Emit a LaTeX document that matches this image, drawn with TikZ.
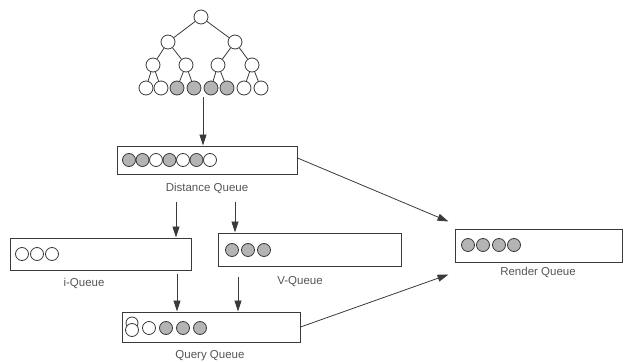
\documentclass[tikz,border=0pt]{standalone}
\usepackage{fontspec}
\setmainfont{Liberation Sans}
\usetikzlibrary{arrows.meta}
\definecolor{ink}{HTML}{3A3A3A}
\definecolor{txt}{HTML}{555555}
\definecolor{shade}{HTML}{B4B4B4}
\tikzset{
  wc/.style={circle,draw=ink,line width=0.8pt,fill=white,minimum size=13pt,inner sep=0pt},
  gc/.style={wc,fill=shade},
  tn/.style={circle,draw=ink,line width=0.8pt,fill=white,minimum size=14pt,inner sep=0pt},
  tg/.style={tn,fill=shade},
  qbox/.style={rectangle,draw=ink,line width=1pt,inner sep=0pt},
  lab/.style={text=txt,font=\fontsize{11.5}{13}\selectfont,inner sep=0pt},
  edge/.style={draw=ink,line width=0.8pt},
  arr/.style={draw=ink,line width=0.8pt,-{Triangle[length=11pt,width=7pt]}},
}
\begin{document}
\begin{tikzpicture}[x=1pt,y=-1pt]
\useasboundingbox (0,0) rectangle (625,362);
% tree
\node[tn] (r) at (201,17) {};
\node[tn] (a) at (168,42) {};
\node[tn] (b) at (235,42) {};
\node[tn] (a1) at (153,65) {};
\node[tn] (a2) at (186,65) {};
\node[tn] (b1) at (218,65) {};
\node[tn] (b2) at (252,65) {};
\node[tn] (l1) at (146,88) {};
\node[tn] (l2) at (161,88) {};
\node[tg] (l3) at (177,88) {};
\node[tg] (l4) at (194,88) {};
\node[tg] (l5) at (211,88) {};
\node[tg] (l6) at (227,88) {};
\node[tn] (l7) at (244,88) {};
\node[tn] (l8) at (261,88) {};
\draw[edge] (r)--(a) (r)--(b) (a)--(a1) (a)--(a2) (b)--(b1) (b)--(b2)
  (a1)--(l1) (a1)--(l2) (a2)--(l3) (a2)--(l4) (b1)--(l5) (b1)--(l6) (b2)--(l7) (b2)--(l8);
% boxes
\node[qbox,minimum width=180pt,minimum height=28pt] (dq) at (207,160) {};
\node[qbox,minimum width=181pt,minimum height=32pt] (iq) at (100.5,254) {};
\node[qbox,minimum width=183pt,minimum height=33pt] (vq) at (309.5,249.5) {};
\node[qbox,minimum width=178pt,minimum height=30pt] (qq) at (211,327) {};
\node[qbox,minimum width=167pt,minimum height=33pt] (rq) at (538.5,245.5) {};
% labels
\node[lab] (dql) at (207,188) {Distance Queue};
\node[lab] (iql) at (84,283) {i-Queue};
\node[lab] (vql) at (300,282) {V-Queue};
\node[lab] (qql) at (210,356) {Query Queue};
\node[lab] (rql) at (538,272) {Render Queue};
% distance queue circles
\node[gc] (d1) at (129,160) {};
\node[gc] (d2) at (142.5,160) {};
\node[wc] (d3) at (156,160) {};
\node[gc] (d4) at (169.5,160) {};
\node[wc] (d5) at (183,160) {};
\node[gc] (d6) at (196.5,160) {};
\node[wc] (d7) at (210,160) {};
% i-queue
\node[wc] (i1) at (22,254) {};
\node[wc] (i2) at (37,254) {};
\node[wc] (i3) at (52,254) {};
% v-queue
\node[gc] (v1) at (232,250) {};
\node[gc] (v2) at (248,250) {};
\node[gc] (v3) at (264,250) {};
% query queue
\node[wc,minimum size=12pt] (q0) at (132,323) {};
\node[wc] (q1) at (132,330) {};
\node[wc] (q2) at (149,328) {};
\node[gc] (q3) at (166,328) {};
\node[gc] (q4) at (183,328) {};
\node[gc] (q5) at (200,328) {};
% render queue
\node[gc] (r1) at (468,245) {};
\node[gc] (r2) at (483,245) {};
\node[gc] (r3) at (499,245) {};
\node[gc] (r4) at (514,245) {};
% connectors
\coordinate (ts) at (203,97);
\draw[arr] (ts) -- (ts |- dq.north);
\coordinate (s1) at ([xshift=-31pt,yshift=-27pt]dq.south);
\draw[arr] (s1) -- (s1 |- iq.north);
\coordinate (s2) at ([xshift=28pt,yshift=-27pt]dq.south);
\draw[arr] (s2) -- (s2 |- vq.north);
\coordinate (s3) at ([xshift=76.5pt,yshift=-3pt]iq.south);
\draw[arr] (s3) -- (s3 |- qq.north);
\coordinate (s4) at ([xshift=-71.5pt,yshift=-10pt]vq.south);
\draw[arr] (s4) -- (s4 |- qq.north);
\coordinate (e1) at ([xshift=-6pt,yshift=7pt]rq.north west);
\draw[arr] ([yshift=2pt]dq.east) -- (e1);
\coordinate (e2) at ([xshift=-6pt,yshift=-12pt]rq.south west);
\draw[arr] (qq.east) -- (e2);
\end{tikzpicture}
\end{document}
